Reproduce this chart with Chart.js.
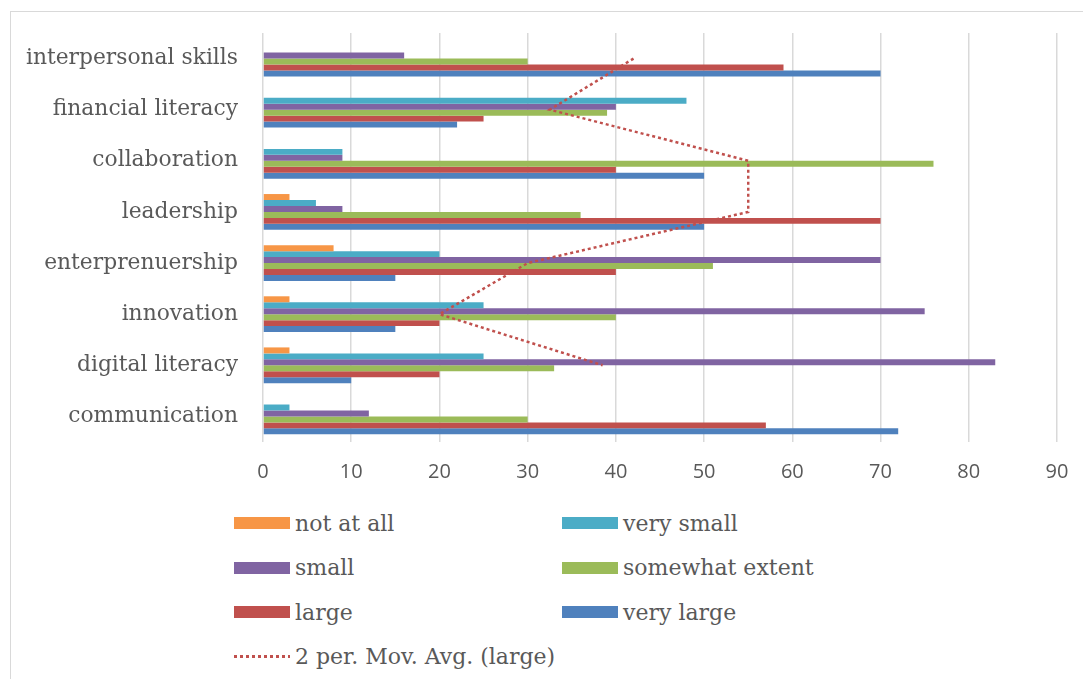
<!DOCTYPE html>
<html lang="en">
<head>
    <meta charset="UTF-8">
    <title>Skills by extent</title>
    <script src="https://cdn.jsdelivr.net/npm/chart.js"></script>
    <style>
        body { margin: 0; background: #fff; width: 1083px; height: 679px; overflow: hidden; position: relative; }
        #frame { position: absolute; left: 10px; top: 11px; width: 1100px; height: 700px; border: 1px solid #d9d9d9; }
        #wrap { position: absolute; left: 0; top: 0; width: 1083px; height: 500px; }
        #legend { position: absolute; left: 234px; top: 501px; display: grid;
                  grid-template-columns: 328px 328px; grid-auto-rows: 44.5px; }
        .item { display: flex; align-items: center; font-family: 'DejaVu Serif', serif; font-size: 22px; color: #595959; }
        .swatch { width: 56px; height: 12px; margin-right: 5px; }
        .dots { height: 3px; background: repeating-linear-gradient(90deg, #C0504D 0 3px, transparent 3px 6px); }
    </style>
</head>
<body>
    <div id="frame"></div>
    <div id="wrap"><canvas id="chart"></canvas></div>
    <div id="legend"></div>

    <script>
        // categories listed top to bottom
        const skills = ['interpersonal skills', 'financial literacy', 'collaboration', 'leadership',
                        'enterprenuership', 'innovation', 'digital literacy', 'communication'];

        const notAtAll   = [0, 0, 0, 3, 8, 3, 3, 0];
        const verySmall  = [0, 48, 9, 6, 20, 25, 25, 3];
        const small      = [16, 40, 9, 9, 70, 75, 83, 12];
        const somewhat   = [30, 39, 76, 36, 51, 40, 33, 30];
        const large      = [59, 25, 40, 70, 40, 20, 20, 57];
        const veryLarge  = [70, 22, 50, 50, 15, 15, 10, 72];
        // 2 period moving average of "large" as drawn (no value for the first category)
        const movAvgLarge = [42, 32.5, 55, 55, 30, 20, 38.5, null];

        const xTicks = [0, 10, 20, 30, 40, 50, 60, 70, 80, 90];

        const series = [
            { label: 'not at all', data: notAtAll, color: '#F79646' },
            { label: 'very small', data: verySmall, color: '#4BACC6' },
            { label: 'small', data: small, color: '#8064A2' },
            { label: 'somewhat extent', data: somewhat, color: '#9BBB59' },
            { label: 'large', data: large, color: '#C0504D' },
            { label: 'very large', data: veryLarge, color: '#4F81BD' }
        ];

        const datasets = series.map(s => ({
            type: 'bar',
            label: s.label,
            data: s.data,
            backgroundColor: s.color,
            categoryPercentage: 0.7,
            barPercentage: 1.0,
            order: 1
        }));
        datasets.push({
            type: 'line',
            label: '2 per. Mov. Avg. (large)',
            data: movAvgLarge,
            indexAxis: 'y',
            borderColor: '#C0504D',
            borderWidth: 2.5,
            borderDash: [3, 3],
            pointRadius: 0,
            fill: false,
            spanGaps: false,
            order: 0
        });

        new Chart(document.getElementById('chart'), {
            data: { labels: skills, datasets: datasets },
            options: {
                indexAxis: 'y',
                responsive: true,
                maintainAspectRatio: false,
                animation: false,
                layout: { padding: { top: 33, right: 26, left: 0, bottom: 0 } },
                plugins: { legend: { display: false }, tooltip: { enabled: false } },
                scales: {
                    x: {
                        min: 0, max: 90,
                        afterBuildTicks: axis => { axis.ticks = xTicks.map(v => ({ value: v })); },
                        afterFit: axis => { axis.height = 58; },
                        grid: { color: '#d9d9d9', lineWidth: 1.5, drawTicks: true, tickLength: 14, tickColor: 'rgba(0,0,0,0)' },
                        border: { display: false },
                        ticks: { padding: 4, color: '#595959', font: { family: 'Open Sans', size: 20 } }
                    },
                    y: {
                        afterFit: axis => { axis.width = 263; },
                        grid: { display: false, drawTicks: true, tickLength: 21, tickColor: 'rgba(0,0,0,0)' },
                        border: { display: false },
                        ticks: { padding: 4, color: '#595959', font: { family: 'DejaVu Serif', size: 21.8 } }
                    }
                }
            }
        });

        // two-column legend like the original
        const legend = document.getElementById('legend');
        series.forEach(s => {
            legend.insertAdjacentHTML('beforeend',
                `<div class="item"><span class="swatch" style="background:${s.color}"></span>${s.label}</div>`);
        });
        legend.insertAdjacentHTML('beforeend',
            '<div class="item"><span class="swatch dots"></span>2 per. Mov. Avg. (large)</div>');
    </script>
</body>
</html>
